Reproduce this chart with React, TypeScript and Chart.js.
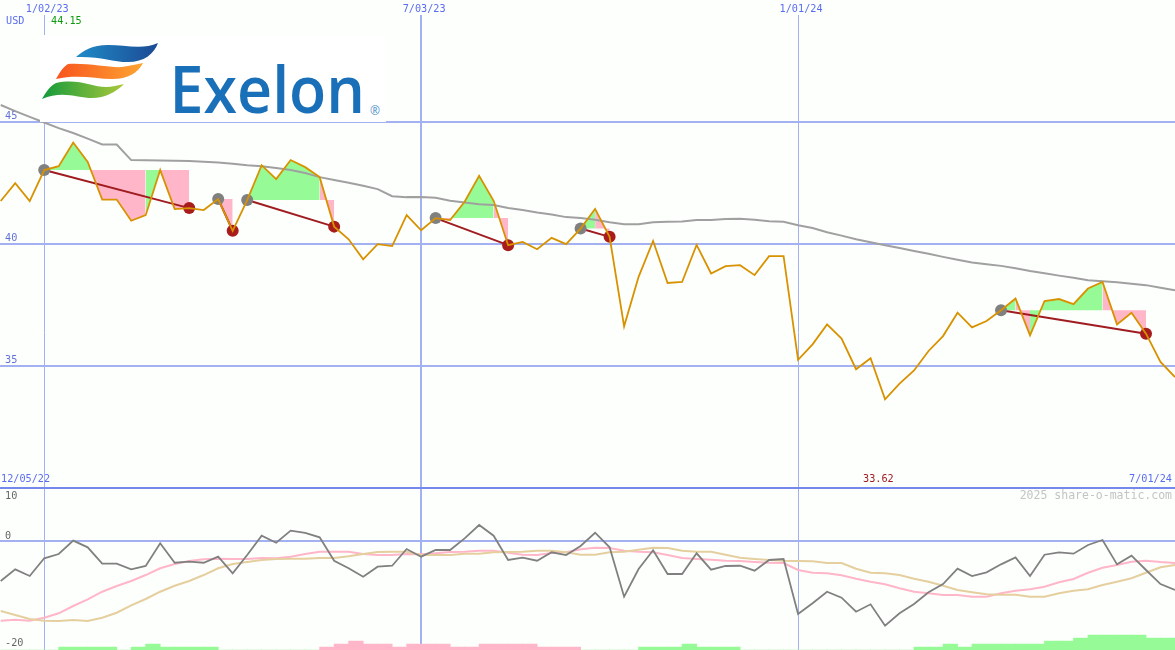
import React, { useEffect, useRef } from 'react';
import { Chart, Plugin, registerables } from 'chart.js';

Chart.register(...registerables);

// weekly closes, one value per week from the left edge
const price = [
    41.75, 42.48, 41.75, 43.02, 43.18, 44.15, 43.35, 41.81, 41.81, 40.94, 41.17, 43.02, 41.42, 41.46, 41.38, 41.83,
    40.53, 41.79, 43.22, 42.65, 43.43, 43.14, 42.73, 40.70, 40.18, 39.36, 39.98, 39.90, 41.17, 40.55, 41.05, 40.97,
    41.72, 42.78, 41.76, 39.94, 40.07, 39.77, 40.24, 39.98, 40.62, 41.43, 40.28, 36.61, 38.64, 40.11, 38.39, 38.43,
    39.95, 38.78, 39.08, 39.12, 38.71, 39.49, 39.49, 35.24, 35.87, 36.69, 36.11, 34.85, 35.30, 33.62, 34.26, 34.80,
    35.60, 36.21, 37.17, 36.57, 36.83, 37.27, 37.75, 36.24, 37.65, 37.73, 37.52, 38.16, 38.43, 36.69, 37.17, 36.31,
    35.15, 34.53,
];
const movingAverage = [
    45.69, 45.44, 45.20, 44.97, 44.74, 44.54, 44.31, 44.07, 44.07, 43.43, 43.42, 43.41, 43.40, 43.39, 43.36, 43.33,
    43.28, 43.22, 43.18, 43.10, 43.02, 42.90, 42.73, 42.61, 42.50, 42.38, 42.24, 41.95, 41.91, 41.92, 41.88, 41.76,
    41.69, 41.62, 41.59, 41.46, 41.38, 41.28, 41.20, 41.09, 41.05, 40.98, 40.88, 40.80, 40.80, 40.88, 40.90, 40.91,
    40.97, 40.97, 41.01, 41.02, 40.98, 40.92, 40.90, 40.76, 40.64, 40.47, 40.33, 40.18, 40.06, 39.94, 39.82, 39.70,
    39.59, 39.46, 39.34, 39.23, 39.16, 39.09, 38.99, 38.88, 38.79, 38.69, 38.60, 38.50, 38.46, 38.42, 38.36, 38.30,
    38.19, 38.09,
];
const oscillator = [
    -7.48, -5.29, -6.54, -3.23, -2.43, 0.06, -1.18, -4.24, -4.24, -5.29, -4.67, -0.43, -4.06, -3.87, -4.06, -2.93,
    -6.04, -2.62, 0.99, -0.32, 1.93, 1.50, 0.69, -3.68, -5.10, -6.67, -4.80, -4.62, -1.50, -2.93, -1.68, -1.68,
    0.50, 2.99, 0.99, -3.55, -3.12, -3.68, -2.11, -2.62, -0.93, 1.55, -1.18, -10.41, -5.23, -1.74, -6.17, -6.17,
    -2.30, -5.36, -4.67, -4.62, -5.55, -3.55, -3.36, -13.64, -11.64, -9.48, -10.60, -13.21, -11.83, -15.83, -13.51, -11.78,
    -9.59, -8.04, -5.18, -6.54, -5.85, -4.36, -3.05, -6.54, -2.56, -2.11, -2.37, -0.75, 0.19, -4.36, -2.75, -5.42,
    -8.04, -9.16,
];
const fastSignal = [
    -14.90, -14.71, -14.90, -14.34, -13.51, -12.15, -10.90, -9.48, -8.41, -7.48, -6.36, -5.10, -4.30, -3.74, -3.42, -3.31,
    -3.36, -3.36, -3.18, -3.23, -2.93, -2.43, -2.00, -2.00, -2.00, -2.43, -2.62, -2.62, -2.43, -2.49, -2.30, -2.06,
    -2.00, -1.81, -1.81, -2.19, -2.56, -2.62, -2.24, -2.11, -1.55, -1.25, -1.31, -1.81, -2.00, -2.11, -2.62, -3.18,
    -3.36, -3.50, -3.68, -3.74, -3.93, -4.06, -4.11, -5.42, -5.93, -6.04, -6.41, -7.05, -7.61, -8.09, -8.84, -9.48,
    -9.78, -10.09, -10.09, -10.41, -10.41, -9.78, -9.29, -9.03, -8.54, -7.72, -7.10, -5.93, -4.99, -4.49, -3.87, -3.68,
    -3.93, -4.11,
];
const slowSignal = [
    -13.08, -13.83, -14.58, -14.90, -14.95, -14.77, -14.95, -14.34, -13.40, -12.02, -10.84, -9.48, -8.36, -7.48, -6.36, -5.10,
    -4.30, -3.93, -3.55, -3.36, -3.31, -3.31, -3.18, -3.18, -2.86, -2.43, -2.06, -2.00, -2.00, -2.62, -2.62, -2.62,
    -2.37, -2.37, -2.11, -2.06, -2.00, -1.81, -1.81, -2.11, -2.56, -2.56, -2.11, -2.00, -1.63, -1.25, -1.31, -1.81,
    -2.00, -2.00, -2.56, -3.12, -3.36, -3.55, -3.68, -3.74, -3.79, -4.11, -4.11, -5.18, -5.93, -6.04, -6.36, -7.05,
    -7.61, -8.36, -9.16, -9.59, -9.96, -10.04, -10.04, -10.41, -10.41, -9.78, -9.29, -9.03, -8.22, -7.61, -6.97, -5.93,
    -4.92, -4.49,
];
const histogram = [
    0, 0, 0, 0, 1, 1, 1, 1, 0, 1, 2, 1, 1, 1, 1, 0, 0, 0, 0, 0, 0, 0, -1, -2, -3, -2, -2, -1, -2, -2, -2, -1,
    -1, -2, -2, -2, -2, -1, -1, -1, 0, 0, 0, 0, 1, 1, 1, 2, 1, 1, 1, 0, 0, 0, 0, 0, 0, 0, 0, 0, 0, 0, 0, 1,
    1, 2, 1, 2, 2, 2, 2, 2, 3, 3, 4, 5, 5, 5, 5, 4, 4, 4,
];

// entry and exit weeks of the signals
const tradeEntry = [3, 15, 17, 30, 40, 69];
const tradeExit = [13, 16, 23, 35, 42, 79];

// shaded stretches between the price and the entry level of a signal
const bandFrom = [3, 10, 11, 15, 17, 22, 30, 31, 34, 40, 41, 69, 70, 71, 76];
const bandTo = [10, 11, 13, 16, 22, 23, 31, 34, 35, 41, 42, 70, 71, 76, 79];
const bandLevel = [43.02, 43.02, 43.02, 41.83, 41.79, 41.79, 41.05, 41.05, 41.05, 40.62, 40.62, 37.27, 37.27, 37.27, 37.27];
const bandTone = ['mixed', 'up', 'down', 'down', 'up', 'down', 'down', 'up', 'down', 'up', 'down', 'up', 'down', 'up', 'down'];

const dateWeeks = [3, 29, 55];
const dateLabels = ['1/02/23', '7/03/23', '1/01/24'];
const priceTicks = [35, 40, 45];
const oscillatorTicks = [10, 0, -20];

const GREEN = '#96fb96';
const PINK = '#ffb6c9';
const GRID = '#a3b1f2';
const DARK_GRID = '#7488ee';
const DATE_BLUE = '#5a6cf0';
const MONO = '"DejaVu Sans Mono", monospace';
const OSC_MIN = -20.37;
const BAR_STEP = 0.56;

const toPoints = (values: number[], from = 0) => values.map((y, k) => ({ x: from + k, y }));

const panelText: Plugin = {
    id: 'panelText',
    afterDraw(chart) {
        const { ctx } = chart;
        const put = (text: string, x: number, y: number, color: string, align: CanvasTextAlign = 'left', size = 10.2) => {
            ctx.font = `${size}px ${MONO}`;
            ctx.fillStyle = color;
            ctx.textAlign = align;
            ctx.textBaseline = 'middle';
            ctx.fillText(text, x, y);
        };
        ctx.save();
        put('USD', 6, 21, DATE_BLUE);
        put('44.15', 51, 21, '#109a10');
        put('12/05/22', 1, 479, DATE_BLUE);
        put('33.62', 863, 479, '#a01c20');
        put('7/01/24', 1172, 479, DATE_BLUE, 'right');
        put('10', 5, 496, '#666666');
        put('2025 share-o-matic.com', 1172, 496, '#c4c4c4', 'right', 11.5);
        ctx.restore();
    },
};

const Logo: React.FC = () => (
    <svg width={346} height={87} viewBox="40 35 346 87" style={{ position: 'absolute', left: 40, top: 35 }}>
        <defs>
            <linearGradient id="blueWave" x1="0" x2="1" y1="0" y2="0">
                <stop offset="0" stopColor="#1f8cc8" />
                <stop offset="1" stopColor="#1c4a94" />
            </linearGradient>
            <linearGradient id="orangeWave" x1="0" x2="1" y1="0" y2="0">
                <stop offset="0" stopColor="#f8541e" />
                <stop offset="1" stopColor="#fda432" />
            </linearGradient>
            <linearGradient id="greenWave" x1="0" x2="1" y1="0" y2="0">
                <stop offset="0" stopColor="#139a3c" />
                <stop offset="1" stopColor="#aac83a" />
            </linearGradient>
        </defs>
        <rect x="40" y="35" width="346" height="87" fill="#ffffff" />
        <path d="M76 57 C84 50 92 45 108 45 C125 45 143 50 158 43 C154 54 144 62 128 62 C112 62 100 56 76 57 Z" fill="url(#blueWave)" />
        <path d="M56 79 C60 72 63 67 68 64 C90 63 110 68 122 67 C130 66 137 64 143 63 C138 73 128 79 112 79 C96 79 78 74 56 79 Z" fill="url(#orangeWave)" />
        <path d="M42 99 C46 92 50 86 56 83 C78 78 92 87 106 87 C112 87 118 85 124 84 C116 92 105 98 92 98 C78 98 62 90 42 99 Z" fill="url(#greenWave)" />
        <text x="169.5" y="113" textLength="195.5" lengthAdjust="spacingAndGlyphs" fontFamily="'Open Sans'" fontWeight="600" fontSize="66" fill="#1a70b8">Exelon</text>
        <text x="370" y="115" fontFamily="'Open Sans'" fontSize="12" fill="#4c8fc8">®</text>
    </svg>
);

export default function App() {
    const canvasRef = useRef<HTMLCanvasElement>(null);

    useEffect(() => {
        if (!canvasRef.current) return;

        const bands = bandFrom.map((from, i) => {
            const tone = bandTone[i];
            return {
                type: 'line' as const,
                data: toPoints(price.slice(from, bandTo[i] + 1), from),
                yAxisID: 'y',
                borderWidth: 0,
                pointRadius: 0,
                order: 4,
                fill: {
                    target: { value: bandLevel[i] },
                    above: tone === 'down' ? PINK : GREEN,
                    below: tone === 'up' ? GREEN : PINK,
                },
            };
        });

        const trades = tradeEntry.map((from, i) => ({
            type: 'line' as const,
            data: [
                { x: from, y: price[from] },
                { x: tradeExit[i], y: price[tradeExit[i]] },
            ],
            yAxisID: 'y',
            borderColor: '#a01c20',
            borderWidth: 2,
            pointRadius: 6,
            pointBorderWidth: 0,
            pointBackgroundColor: ['#808080', '#a81c1c'],
            order: 1,
        }));

        const chart = new Chart(canvasRef.current, {
            type: 'line',
            data: {
                datasets: [
                    ...bands,
                    {
                        type: 'line',
                        data: toPoints(movingAverage),
                        yAxisID: 'y',
                        borderColor: '#a0a0a0',
                        borderWidth: 2,
                        pointRadius: 0,
                        order: 3,
                    },
                    ...trades,
                    {
                        type: 'line',
                        data: toPoints(price),
                        yAxisID: 'y',
                        borderColor: '#d89200',
                        borderWidth: 1.8,
                        pointRadius: 0,
                        order: 0,
                    },
                    {
                        type: 'bar',
                        // a bar fills the week to the right of its date
                        data: histogram.map((v, i) => ({ x: i + 0.5, y: OSC_MIN + Math.abs(v) * BAR_STEP })),
                        yAxisID: 'y2',
                        base: OSC_MIN,
                        barThickness: 14.6,
                        backgroundColor: histogram.map((v) => (v < 0 ? PINK : GREEN)),
                        order: 5,
                    },
                    {
                        type: 'line',
                        data: toPoints(slowSignal),
                        yAxisID: 'y2',
                        borderColor: '#e5cf9f',
                        borderWidth: 2,
                        pointRadius: 0,
                        order: 2,
                    },
                    {
                        type: 'line',
                        data: toPoints(fastSignal),
                        yAxisID: 'y2',
                        borderColor: '#ffb6c9',
                        borderWidth: 2,
                        pointRadius: 0,
                        order: 3,
                    },
                    {
                        type: 'line',
                        data: toPoints(oscillator),
                        yAxisID: 'y2',
                        borderColor: '#808080',
                        borderWidth: 1.8,
                        pointRadius: 0,
                        order: 0,
                    },
                ],
            },
            options: {
                responsive: false,
                animation: false,
                events: [],
                layout: { padding: 0, autoPadding: false },
                plugins: {
                    legend: { display: false },
                    tooltip: { enabled: false },
                },
                scales: {
                    x: {
                        type: 'linear',
                        position: 'top',
                        min: -0.05,
                        max: 81,
                        offset: false,
                        afterBuildTicks: (axis) => {
                            axis.ticks = dateWeeks.map((value) => ({ value }));
                        },
                        afterFit: (axis) => {
                            axis.height = 15;
                        },
                        grid: {
                            offset: false,
                            color: GRID,
                            drawTicks: false,
                            lineWidth: (c) => (c.tick && c.tick.value === 29 ? 2 : 1),
                        },
                        border: { display: false },
                        ticks: {
                            color: DATE_BLUE,
                            font: { family: MONO, size: 10.2 },
                            padding: 0,
                            labelOffset: 3,
                            autoSkip: false,
                            maxRotation: 0,
                            callback: (value) => dateLabels[dateWeeks.indexOf(Number(value))],
                        },
                    },
                    y: {
                        type: 'linear',
                        position: 'left',
                        stack: 'panels',
                        stackWeight: 472.5,
                        weight: 1,
                        min: 30,
                        max: 49.38,
                        afterBuildTicks: (axis) => {
                            axis.ticks = priceTicks.map((value) => ({ value }));
                        },
                        afterFit: (axis) => {
                            axis.width = 0;
                            axis.paddingTop = 0;
                            axis.paddingBottom = 0;
                        },
                        grid: { color: GRID, lineWidth: 2, drawTicks: false },
                        border: { display: false },
                        ticks: {
                            mirror: true,
                            padding: 5,
                            labelOffset: -5,
                            color: '#6272d8',
                            font: { family: MONO, size: 10.2 },
                        },
                    },
                    y2: {
                        type: 'linear',
                        position: 'left',
                        stack: 'panels',
                        stackWeight: 162.5,
                        weight: 0,
                        min: OSC_MIN,
                        max: 10,
                        afterBuildTicks: (axis) => {
                            axis.ticks = oscillatorTicks.map((value) => ({ value }));
                        },
                        afterFit: (axis) => {
                            axis.width = 0;
                            axis.paddingTop = 0;
                            axis.paddingBottom = 0;
                        },
                        grid: {
                            drawTicks: false,
                            lineWidth: 2,
                            color: (c) => {
                                if (c.tick.value === 10) return DARK_GRID;
                                return c.tick.value === 0 ? GRID : 'rgba(0, 0, 0, 0)';
                            },
                        },
                        border: { display: false },
                        ticks: {
                            mirror: true,
                            padding: 5,
                            labelOffset: -5,
                            color: '#666666',
                            font: { family: MONO, size: 10.2 },
                            // the top label sits under the panel line, see panelText
                            callback: (value) => (value === 10 ? '' : String(value)),
                        },
                    },
                },
            },
            plugins: [panelText],
        });

        return () => {
            chart.destroy();
        };
    }, []);

    return (
        <div style={{ position: 'fixed', left: 0, top: 0, width: 1175, height: 650, background: '#fdfffd', overflow: 'hidden' }}>
            <canvas ref={canvasRef} width={1175} height={650} style={{ display: 'block' }} />
            <Logo />
        </div>
    );
}
